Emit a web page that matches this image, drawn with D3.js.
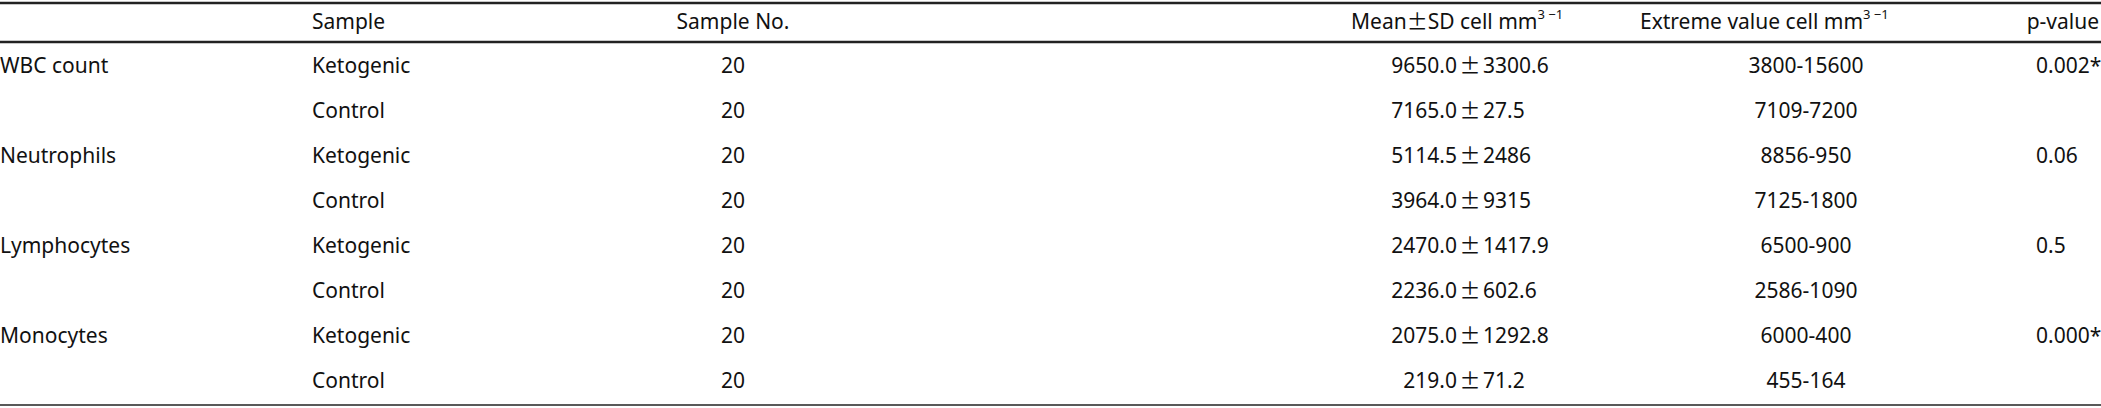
<!DOCTYPE html>
<html><head><meta charset="utf-8">
<script src="https://cdn.jsdelivr.net/npm/d3@7"></script>
<style>body{margin:0;background:#fff}</style>
</head><body><div id="chart"></div>
<script>
// table data
const headers = ["", "Sample", "Sample No.", "Mean", "SD cell mm", "Extreme value cell mm", "p-value"]
const groups = ["WBC count", "Neutrophils", "Lymphocytes", "Monocytes"]
const samples = ["Ketogenic", "Control"]
const sampleNo = [20, 20, 20, 20, 20, 20, 20, 20]
const means = ["9650.0", "7165.0", "5114.5", "3964.0", "2470.0", "2236.0", "2075.0", "219.0"]
const sds = ["3300.6", "27.5", "2486", "9315", "1417.9", "602.6", "1292.8", "71.2"]
const extremes = ["3800-15600", "7109-7200", "8856-950", "7125-1800", "6500-900", "2586-1090", "6000-400", "455-164"]
const pvalues = ["0.002*", "0.06", "0.5", "0.000*"]

const width = 2101, height = 408
const svg = d3.select("#chart").append("svg").attr("width", width).attr("height", height)
  .style("font-family", "'Noto Sans', sans-serif")
  .style("font-size", "21px").attr("fill", "#111")
const cjk = "'Noto Sans CJK JP', sans-serif"

const rowIdx = d3.range(8)
const y = d3.scaleLinear().domain([0, 7]).range([67, 382])
const headY = 23

// rules
svg.append("line").attr("x1", 0).attr("x2", width).attr("y1", 3).attr("y2", 3).attr("stroke", "#222").attr("stroke-width", 2.5)
svg.append("line").attr("x1", 0).attr("x2", width).attr("y1", 42).attr("y2", 42).attr("stroke", "#222").attr("stroke-width", 2.5)
svg.append("line").attr("x1", 0).attr("x2", width).attr("y1", 405).attr("y2", 405).attr("stroke", "#222").attr("stroke-width", 1.5)

const base = sel => sel.attr("dominant-baseline", "middle")

// header
base(svg.append("text").attr("x", 312).attr("y", headY).text(headers[1]))
base(svg.append("text").attr("x", 733).attr("y", headY).attr("text-anchor", "middle").text(headers[2]))
const h3 = base(svg.append("text").attr("x", 1351).attr("y", headY))
h3.append("tspan").text(headers[3])
h3.append("tspan").style("font-family", cjk).text("\u00b1")
h3.append("tspan").text(headers[4])
h3.append("tspan").attr("dy", -7).attr("font-size", 13).text("3 \u22121")
const h4 = base(svg.append("text").attr("x", 1640).attr("y", headY))
h4.append("tspan").text(headers[5])
h4.append("tspan").attr("dy", -7).attr("font-size", 13).text("3 \u22121")
base(svg.append("text").attr("x", 2099).attr("y", headY).attr("text-anchor", "end").text(headers[6]))

// rows
svg.selectAll(".grp").data(groups).enter().append("text")
  .attr("x", 0).attr("y", (d, i) => y(i * 2)).attr("dominant-baseline", "middle").text(d => d)
svg.selectAll(".smp").data(rowIdx).enter().append("text")
  .attr("x", 312).attr("y", i => y(i)).attr("dominant-baseline", "middle").text(i => samples[i % 2])
svg.selectAll(".no").data(rowIdx).enter().append("text")
  .attr("x", 733).attr("y", i => y(i)).attr("text-anchor", "middle").attr("dominant-baseline", "middle").text(i => sampleNo[i])
svg.selectAll(".mean").data(rowIdx).enter().append("text")
  .attr("x", 1457).attr("y", i => y(i)).attr("text-anchor", "end").attr("dominant-baseline", "middle").text(i => means[i])
svg.selectAll(".pm").data(rowIdx).enter().append("text")
  .attr("x", 1470).attr("y", i => y(i)).attr("text-anchor", "middle").attr("dominant-baseline", "middle")
  .style("font-family", cjk).text("\u00b1")
svg.selectAll(".sd").data(rowIdx).enter().append("text")
  .attr("x", 1483).attr("y", i => y(i)).attr("dominant-baseline", "middle").text(i => sds[i])
svg.selectAll(".ext").data(rowIdx).enter().append("text")
  .attr("x", 1806).attr("y", i => y(i)).attr("text-anchor", "middle").attr("dominant-baseline", "middle").text(i => extremes[i])
svg.selectAll(".p").data(pvalues).enter().append("text")
  .attr("x", 2036).attr("y", (d, i) => y(i * 2)).attr("dominant-baseline", "middle").text(d => d)
</script></body></html>
